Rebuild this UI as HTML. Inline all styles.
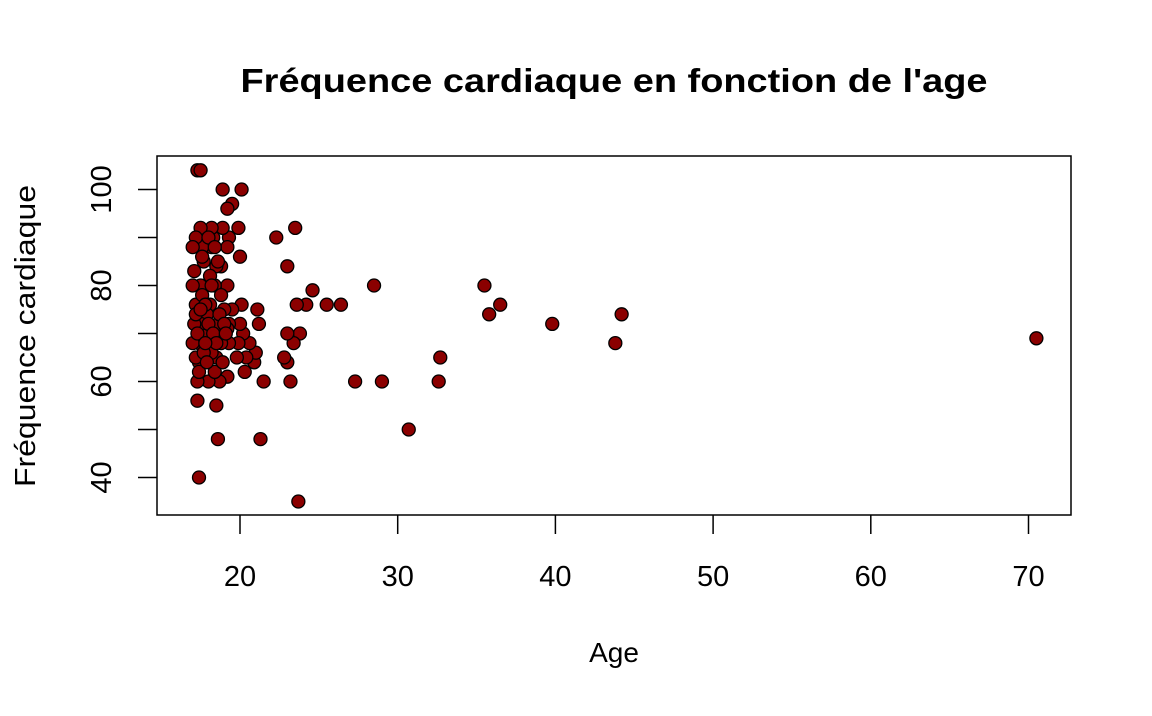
<!DOCTYPE html>
<html><head><meta charset="utf-8"><style>
html,body{margin:0;padding:0;background:#fff;}
svg text{font-family:"Liberation Sans",Arial,sans-serif;fill:#000;}
</style></head><body>
<svg id="chart" width="1152" height="711" viewBox="0 0 1152 711" xmlns="http://www.w3.org/2000/svg">
<rect width="1152" height="711" fill="#fff"/>
<text x="614" y="92" text-anchor="middle" font-size="33" font-weight="bold" textLength="747" lengthAdjust="spacingAndGlyphs">Fréquence cardiaque en fonction de l'age</text>
<rect x="157" y="156" width="914" height="359" fill="none" stroke="#000" stroke-width="1.5"/>
<g id="xaxis"></g>
<g id="yaxis"></g>
<text x="614" y="662" text-anchor="middle" font-size="28">Age</text>
<text transform="translate(35,336) rotate(-90)" text-anchor="middle" font-size="29" textLength="302" lengthAdjust="spacingAndGlyphs">Fréquence cardiaque</text>
<g id="points"></g>
</svg>
<script>
const ages = [70.5,44.2,43.8,39.8,36.5,35.8,35.5,32.7,32.6,30.7,29,27.3,28.5,26.4,25.5,24.6,24.2,23.6,23.8,23.4,23.2,23,23,22.8,23,23.5,22.3,23.7,21.3,21.5,21.2,21.1,20.9,21,20.6,20.3,20.4,20.2,20.1,20,20,19.9,20.1,19.8,19.9,19.5,19.5,19.2,19.3,19.2,19.2,19.3,19.2,19.3,19.2,18.9,18.9,18.8,18.8,18.7,18.6,18.5,18.5,18.5,18.4,18.3,18.2,18.2,18.1,18,18,17.9,17.8,17.7,17.6,17.5,17.5,17.5,17.4,17.4,17.3,17.3,17.4,17.3,17.5,17.2,17.2,17.1,17,17,17.1,17,17.2,17.3,17.2,18.2,18.4,18.1,18.6,19,17.6,17.8,18.0,18.3,18.7,19.0,17.4,17.7,18.5,18.9,17.9,18.2,17.6,18.0,18.8,19.1,17.5,18.4,17.8,18.6];
const heartRates = [69,74,68,72,76,74,80,65,60,50,60,60,80,76,76,79,76,76,70,68,60,70,64,65,84,92,90,35,48,60,72,75,64,66,68,62,65,70,76,72,86,92,100,65,68,75,97,96,90,88,80,72,71,68,61,100,92,84,68,60,48,55,65,84,80,90,92,88,76,70,60,74,80,85,88,92,80,72,68,64,60,56,40,104,104,90,76,83,88,80,72,68,65,70,74,66,62,82,72,75,78,76,72,70,74,72,62,66,68,64,64,80,86,90,78,70,75,88,68,85];
const xTicks = [20,30,40,50,60,70];
const yTicks = [40,50,60,70,80,90,100];
const yLabels = [40,60,80,100];
const NS = "http://www.w3.org/2000/svg";
const xs = v => 240 + (v - 20) * 15.77;
const ys = v => 477.5 - (v - 40) * 4.8;
function mk(tag, attrs, parent){const e=document.createElementNS(NS,tag);for(const k in attrs)e.setAttribute(k,attrs[k]);parent.appendChild(e);return e;}
const xa=document.getElementById('xaxis'), ya=document.getElementById('yaxis'), pg=document.getElementById('points');
xTicks.forEach(t=>{
  const l=mk('line',{x1:xs(t),x2:xs(t),y1:515,y2:534,stroke:'#000','stroke-width':1.5},xa);
  
  
  const tx=mk('text',{x:xs(t),y:586,'text-anchor':'middle','font-size':29},xa);
  tx.textContent=t;
  
  
});
yTicks.forEach(t=>{
  const l=mk('line',{x1:138,x2:157,y1:ys(t),y2:ys(t),stroke:'#000','stroke-width':1.5},ya);
  
  
});
yLabels.forEach(t=>{
  const tx=mk('text',{transform:`translate(111,${ys(t)}) rotate(-90)`,'text-anchor':'middle','font-size':29},ya);
  tx.textContent=t;
  
  
});
ages.forEach((a,i)=>{
  const c=mk('circle',{cx:xs(a),cy:ys(heartRates[i]),r:6.5,fill:'#8b0000',stroke:'#000','stroke-width':1.3},pg);
  
  
});
</script>
</body></html>
